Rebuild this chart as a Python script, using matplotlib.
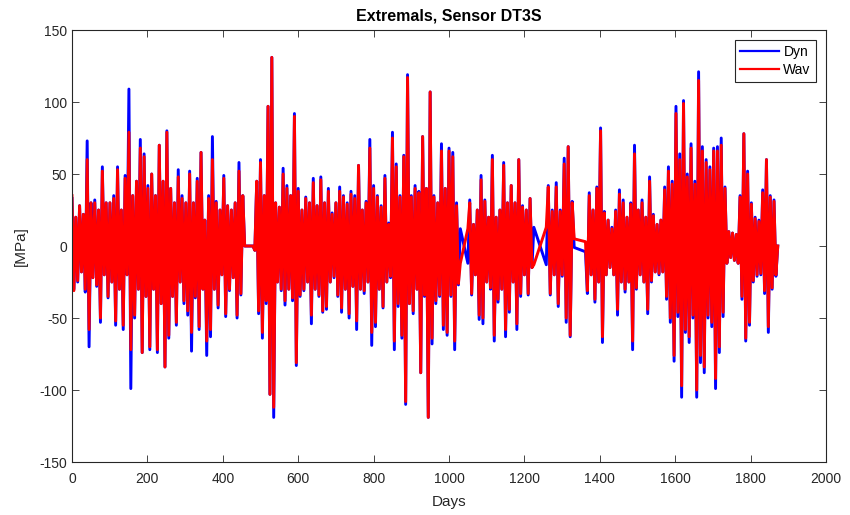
import numpy as np
import matplotlib.pyplot as plt

plt.rcParams['font.family'] = ['Liberation Sans', 'DejaVu Sans']
plt.rcParams['axes.unicode_minus'] = False

# segments of the record (gaps between them are bridged by straight lines)
seg_start = [0, 480, 1050, 1258, 1362]
seg_end = [458, 1030, 1225, 1332, 1872]

# extremal values [MPa], per segment
dyn_a = [33, -30, 20, -25, 28, -18, 22, -32, 73, -70,
         30, -22, 32, -28, 25, -53, 55, -20, 30, -36,
         30, -25, 35, -55, 55, -30, 25, -58, 49, -20,
         109, -99, 35, -50, 45, -30, 74, -74, 64, -35,
         42, -72, 50, -30, 35, -74, 70, -40, 45, -84,
         80, -64, 40, -35, 30, -55, 53, -25, 35, -40,
         30, -48, 52, -73, 30, -36, 47, -58, 65, -30,
         18, -76, 35, -63, 76, -30, 31, -43, 25, -20,
         49, -49, 28, -31, 25, -22, 30, -50, 58, -34,
         35, 0]
wav_a = [35, -31, 20, -24, 28, -18, 22, -30, 60, -58,
         30, -22, 30, -27, 25, -50, 52, -20, 30, -35,
         30, -25, 33, -52, 53, -30, 25, -55, 47, -20,
         79, -72, 35, -48, 45, -30, 68, -74, 62, -35,
         40, -70, 50, -30, 35, -72, 70, -40, 45, -84,
         79, -62, 40, -35, 30, -53, 48, -25, 33, -38,
         30, -45, 50, -60, 30, -35, 45, -56, 65, -30,
         18, -66, 33, -58, 60, -30, 30, -41, 25, -20,
         47, -47, 28, -30, 25, -22, 30, -48, 52, -33,
         35, 0]

dyn_b = [0, -3, 45, -47, 60, -64, 35, -40, 97, -103,
         131, -119, 30, -25, 27, -31, 54, -41, 42, -30,
         35, -38, 92, -83, 40, -35, 25, -31, 34, -25,
         30, -54, 47, -30, 28, -35, 48, -46, 30, -44,
         40, -25, 23, -22, 30, -35, 41, -46, 35, -30,
         30, -50, 38, -28, 35, -58, 56, -30, 25, -33,
         31, -25, 74, -69, 42, -56, 35, -30, 28, -43,
         49, -25, 16, -22, 79, -72, 57, -42, 35, -64,
         63, -110, 119, -40, 35, -47, 42, -30, 38, -88,
         76, -35, 40, -119, 107, -68, 35, -40, 30, -35,
         71, -58, 40, -62, 68, -35, 65, -72, 30, -27,
         12]
wav_b = [0, -3, 45, -45, 58, -60, 35, -38, 97, -103,
         131, -112, 30, -25, 27, -30, 50, -38, 40, -30,
         35, -36, 90, -81, 38, -34, 25, -30, 33, -25,
         30, -48, 44, -30, 28, -34, 46, -45, 30, -42,
         38, -25, 22, -21, 30, -34, 38, -43, 34, -30,
         29, -47, 36, -28, 33, -52, 56, -30, 25, -31,
         30, -25, 68, -60, 40, -53, 34, -30, 27, -42,
         47, -25, 15, -21, 75, -66, 55, -40, 34, -62,
         62, -108, 117, -40, 34, -45, 40, -30, 37, -88,
         76, -34, 40, -119, 107, -64, 34, -38, 30, -34,
         66, -55, 40, -60, 66, -34, 62, -66, 28, -26,
         -12]

dyn_c = [-12, 32, -34, 15, -20, 25, -51, 49, -54, 32,
         -25, 20, -30, 63, -66, 20, -39, 25, -30, 58,
         -63, 30, -46, 42, -25, 30, -58, 60, -35, 28,
         -20, 25, -34, 33, -15, 13]
wav_c = [12, 30, -33, 15, -20, 25, -48, 46, -50, 31,
         -25, 20, -29, 60, -62, 20, -37, 25, -30, 56,
         -58, 30, -44, 42, -25, 30, -54, 60, -33, 27,
         -20, 25, -33, 33, -15, -13]

dyn_d = [-13, 42, -34, 25, -20, 44, -42, 25, -21, 61, -53, 69, -63, 31, -1]
wav_d = [13, 41, -33, 24, -20, 41, -40, 24, -20, 57, -50, 69, -62, 30, 5]

dyn_e = [-4, -33, 37, -20, 25, -39, 41, -25, 82, -67,
         24, -20, 18, -15, 13, -20, 25, -48, 39, -25,
         32, -32, 20, -25, 30, -72, 70, -30, 25, -20,
         32, -25, 20, -47, 48, -25, 22, -18, 15, -20,
         18, -18, 41, -37, 55, -53, 45, -80, 97, -49,
         64, -105, 101, -60, 50, -67, 71, -50, 45, -105,
         121, -81, 69, -88, 60, -50, 55, -56, 68, -99,
         69, -74, 75, -49, 41, -12, 10, -8, 9, -10,
         8, -12, 35, -37, 78, -66, 52, -55, 30, -25,
         20, -21, 18, -20, 39, -33, 60, -60, 35, -30,
         32, -21, 0]
wav_e = [3, -31, 35, -20, 25, -37, 40, -25, 80, -63,
         23, -20, 18, -15, 12, -20, 24, -44, 36, -25,
         30, -30, 20, -25, 29, -66, 64, -29, 25, -20,
         30, -25, 20, -44, 45, -24, 21, -18, 15, -19,
         18, -18, 39, -35, 52, -50, 43, -76, 92, -46,
         60, -97, 99, -58, 48, -63, 68, -48, 43, -100,
         115, -76, 66, -84, 58, -48, 53, -53, 66, -92,
         66, -70, 70, -46, 40, -12, 10, -8, 9, -10,
         8, -12, 34, -35, 78, -64, 50, -53, 29, -24,
         19, -20, 17, -19, 37, -31, 60, -56, 34, -29,
         31, -20, 0]

dyn_segs = [dyn_a, dyn_b, dyn_c, dyn_d, dyn_e]
wav_segs = [wav_a, wav_b, wav_c, wav_d, wav_e]

days = np.concatenate([np.linspace(s, e, len(v))
                       for s, e, v in zip(seg_start, seg_end, dyn_segs)])
dyn = np.concatenate(dyn_segs)
wav = np.concatenate(wav_segs)

fig, ax = plt.subplots(figsize=(8.5, 5.15), dpi=100)
fig.subplots_adjust(left=0.0847, right=0.9718, top=0.9417, bottom=0.1029)

ax.plot(days, dyn, color='blue', lw=2.1, label='Dyn')
ax.plot(days, wav, color='red', lw=2.1, label='Wav')

ax.set_xlim(0, 2000)
ax.set_ylim(-150, 150)
ax.set_xticks(np.arange(0, 2001, 200))
ax.set_yticks(np.arange(-150, 151, 50))
ax.tick_params(direction='in', top=True, right=True, length=5, width=0.6,
               labelsize=10, colors='#262626')
ax.tick_params(axis='x', pad=7.5)
for sp in ax.spines.values():
    sp.set_color('#262626')
    sp.set_linewidth(0.8)

ax.set_title('Extremals, Sensor DT3S', fontsize=11.5, fontweight='bold', pad=7)
ax.set_xlabel('Days', fontsize=11, color='#262626', labelpad=6)
ax.set_ylabel('[MPa]', fontsize=11, color='#262626', labelpad=8)

leg = ax.legend(loc='upper right', fancybox=False, edgecolor='#262626',
                framealpha=1, fontsize=10, handlelength=2.8, borderaxespad=0.7,
                borderpad=0.4, labelspacing=0.25, handletextpad=0.3)
leg.get_frame().set_linewidth(0.8)
for ln in leg.get_lines():
    ln.set_linewidth(1.6)

fig.savefig('out.png', dpi=100)
